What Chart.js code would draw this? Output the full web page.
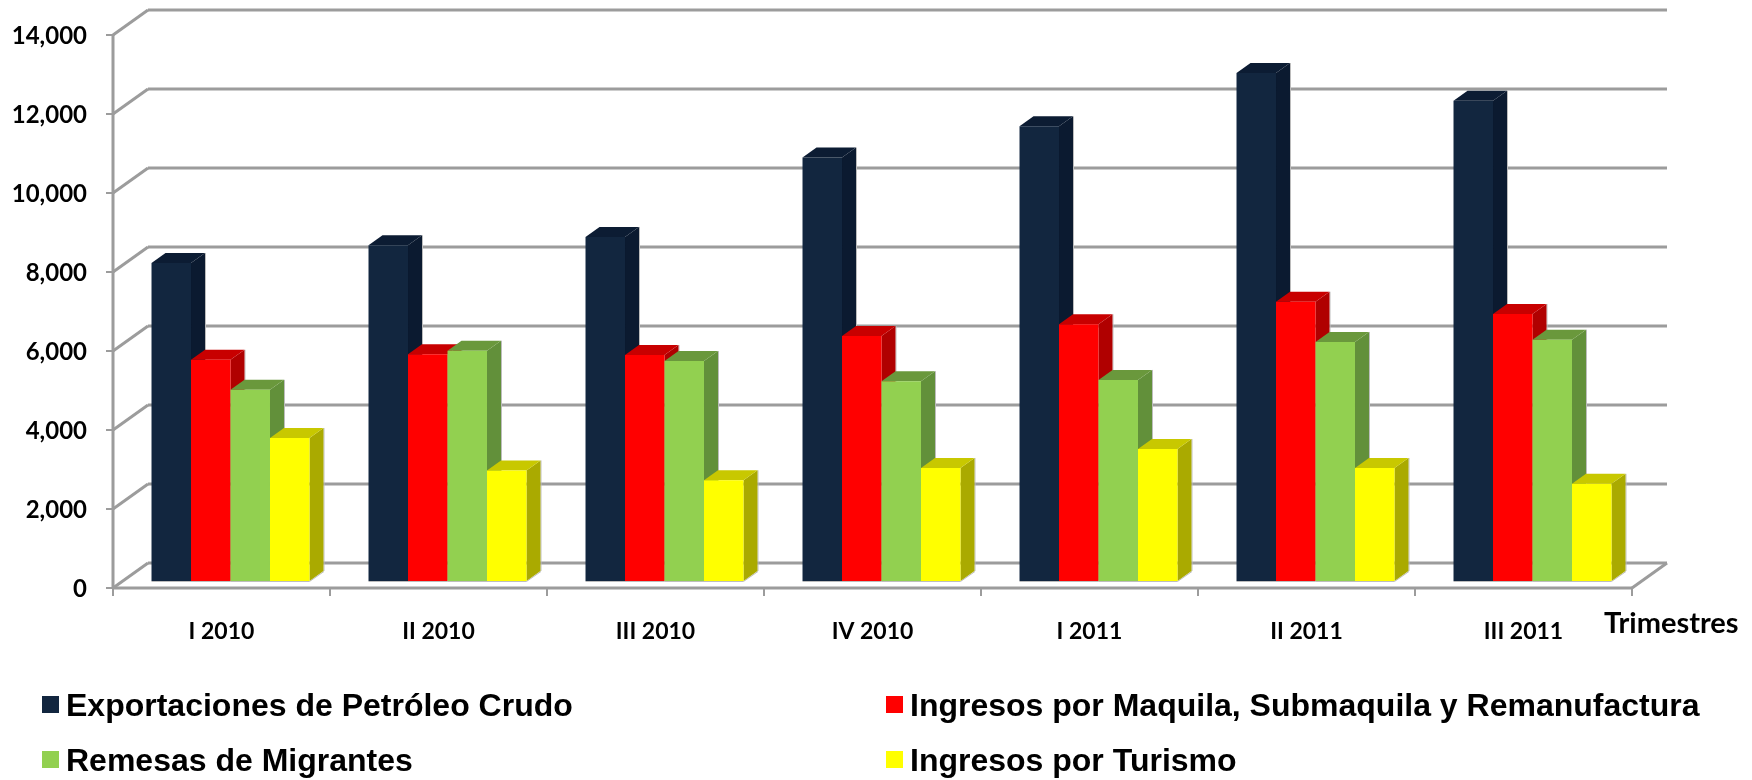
<!DOCTYPE html>
<html>
<head>
<meta charset="utf-8">
<title>Trimestres</title>
<script src="https://cdn.jsdelivr.net/npm/chart.js@4/dist/chart.umd.min.js"></script>
<style>
  html, body { margin: 0; padding: 0; background: #fff; }
  canvas { display: block; }
</style>
</head>
<body>
<canvas id="bar-chart" width="1752" height="780"></canvas>
<script>
const categories = ["I 2010", "II 2010", "III 2010", "IV 2010", "I 2011", "II 2011", "III 2011"];
const seriesNames = ["Exportaciones de Petróleo Crudo", "Ingresos por Maquila, Submaquila y Remanufactura", "Remesas de Migrantes", "Ingresos por Turismo"];
const petroleo = [8050, 8500, 8710, 10720, 11510, 12860, 12160];
const maquila = [5600, 5740, 5720, 6200, 6500, 7070, 6760];
const remesas = [4840, 5830, 5570, 5060, 5090, 6050, 6110];
const turismo = [3620, 2800, 2550, 2860, 3340, 2860, 2460];

const frontColors = ["#12263f", "#ff0000", "#92d050", "#ffff00"];
const sideColors = ["#0b1a30", "#b00000", "#62903a", "#aaaa00"];
const topColors = ["#0c1c33", "#c80000", "#6a983c", "#c8c800"];

const GRID = "#9c9c9c";
const EDGE = "#bdbdbd";
// front plane of the box sits a little left/below the bars, back wall up/right
const FRONT_DX = -9, FRONT_DY = 7, BACK_DX = 26, BACK_DY = -18;
const DEPTH_X = 14, DEPTH_Y = 10;

function line(ctx, x1, y1, x2, y2) {
  ctx.beginPath();
  ctx.moveTo(x1, y1);
  ctx.lineTo(x2, y2);
  ctx.stroke();
}

function poly(ctx, pts, color) {
  ctx.fillStyle = color;
  ctx.beginPath();
  pts.forEach((p, i) => i ? ctx.lineTo(p[0], p[1]) : ctx.moveTo(p[0], p[1]));
  ctx.closePath();
  ctx.fill();
}

const box3d = {
  id: "box3d",
  beforeDatasetsDraw(chart) {
    const ctx = chart.ctx, x = chart.scales.x, y = chart.scales.y;
    const left = x.left, right = x.right;
    ctx.save();
    ctx.strokeStyle = GRID;
    ctx.lineWidth = 3;
    ctx.lineCap = "butt";

    // walls
    y.ticks.forEach(t => {
      const py = y.getPixelForValue(t.value);
      line(ctx, left + BACK_DX, py + BACK_DY, right + BACK_DX, py + BACK_DY);
      line(ctx, left + FRONT_DX, py + FRONT_DY, left + BACK_DX, py + BACK_DY);
      ctx.lineWidth = 2;
      line(ctx, left + FRONT_DX - 7, py + FRONT_DY, left + FRONT_DX, py + FRONT_DY);
      ctx.lineWidth = 3;
    });
    const base = y.getPixelForValue(0);
    const top = y.getPixelForValue(14000);
    line(ctx, left + FRONT_DX, top + FRONT_DY, left + FRONT_DX, base + FRONT_DY);
    line(ctx, left + FRONT_DX, base + FRONT_DY, right + FRONT_DX, base + FRONT_DY);
    line(ctx, right + FRONT_DX, base + FRONT_DY, right + BACK_DX, base + BACK_DY);

    // x tick marks at category edges
    ctx.lineWidth = 2;
    for (let i = 0; i <= categories.length; i++) {
      const px = left + FRONT_DX + i * x.width / categories.length;
      line(ctx, px, base + FRONT_DY, px, base + FRONT_DY + 8);
    }
    ctx.restore();

    // bars, left to right so each front face covers the side of the one before
    categories.forEach((c, i) => {
      chart.data.datasets.forEach((ds, d) => {
        const bar = chart.getDatasetMeta(d).data[i];
        const p = bar.getProps(["x", "y", "base", "width"], true);
        const l = p.x - p.width / 2, r = p.x + p.width / 2;
        // pale edge round the outside of the block
        ctx.save();
        ctx.strokeStyle = EDGE;
        ctx.lineWidth = 1;
        line(ctx, r + DEPTH_X + 0.5, p.y - DEPTH_Y, r + DEPTH_X + 0.5, p.base - DEPTH_Y);
        line(ctx, l, p.base + 0.5, r, p.base + 0.5);
        line(ctx, r, p.base + 0.5, r + DEPTH_X + 0.5, p.base - DEPTH_Y + 0.5);
        ctx.restore();
        poly(ctx, [[r, p.y], [r + DEPTH_X, p.y - DEPTH_Y], [r + DEPTH_X, p.base - DEPTH_Y], [r, p.base]], sideColors[d]);
        poly(ctx, [[l, p.y], [l + DEPTH_X, p.y - DEPTH_Y], [r + DEPTH_X, p.y - DEPTH_Y], [r, p.y]], topColors[d]);
        bar.draw(ctx, chart.chartArea);
      });
    });
  },
  beforeDatasetDraw() {
    return false;
  },
  afterDraw(chart) {
    const ctx = chart.ctx;
    ctx.save();
    ctx.fillStyle = "#000";
    ctx.textBaseline = "alphabetic";
    ctx.textAlign = "left";
    ctx.font = "bold 29px Lato";
    ctx.fillText("Trimestres", 1604, 633);

    // legend, two columns by two rows
    ctx.font = "bold 32px 'Liberation Sans'";
    const cols = [42, 886], rows = [716, 771];
    seriesNames.forEach((name, i) => {
      const cx = cols[i % 2], by = rows[Math.floor(i / 2)];
      ctx.fillStyle = frontColors[i];
      ctx.fillRect(cx, by - 20, 17, 17);
      ctx.fillStyle = "#000";
      ctx.fillText(name, cx + 24, by);
    });
    ctx.restore();
  }
};

const seriesValues = [petroleo, maquila, remesas, turismo];

new Chart(document.getElementById("bar-chart"), {
  type: "bar",
  data: {
    labels: categories,
    datasets: seriesNames.map((name, i) => ({
      label: name,
      data: seriesValues[i],
      backgroundColor: frontColors[i],
      borderWidth: 0,
      categoryPercentage: 0.728,
      barPercentage: 1
    }))
  },
  options: {
    responsive: false,
    animation: false,
    layout: { padding: { top: 28, right: 111, left: 0, bottom: 0 } },
    plugins: { legend: { display: false }, title: { display: false }, tooltip: { enabled: false } },
    scales: {
      x: {
        grid: { display: false, drawTicks: false },
        border: { display: false },
        afterFit(scale) { scale.height = 199; scale.paddingLeft = 0; scale.paddingRight = 0; },
        ticks: {
          color: "#000",
          font: { family: "Lato", weight: "bold", size: 23 },
          padding: 37,
          labelOffset: -9,
          maxRotation: 0
        }
      },
      y: {
        min: 0,
        max: 14000,
        grid: { display: false, drawTicks: false },
        border: { display: false },
        afterFit(scale) { scale.width = 122; scale.paddingTop = 0; scale.paddingBottom = 0; },
        ticks: {
          stepSize: 2000,
          color: "#000",
          font: { family: "Lato", weight: "bold", size: 24 },
          padding: 35,
          labelOffset: 8,
          callback: v => v.toLocaleString("en-US")
        }
      }
    }
  },
  plugins: [box3d]
});
</script>
</body>
</html>
